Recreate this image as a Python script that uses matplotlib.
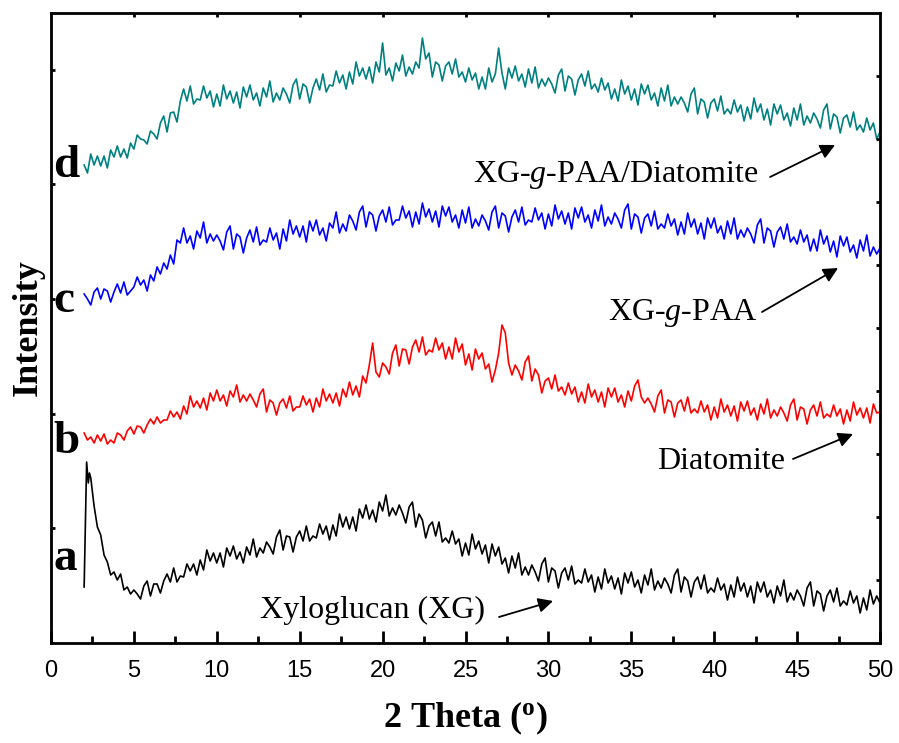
import numpy as np
import matplotlib
matplotlib.use('Agg')
import matplotlib.pyplot as plt

plt.rcParams['mathtext.fontset'] = 'custom'
plt.rcParams['mathtext.rm'] = 'Liberation Serif'
plt.rcParams['mathtext.it'] = 'Liberation Serif:italic'
plt.rcParams['mathtext.bf'] = 'Liberation Serif:bold'

# 2 theta grid (step 0.2) shared by curves b, c, d
two_theta = np.linspace(2, 50, 241)

# d: XG-g-PAA/Diatomite (offset intensity, arbitrary units)
d_int = [478, 470, 489, 478, 487, 477, 487, 475, 493, 486, 497, 486, 494, 485, 500,
         494, 508, 504, 503, 499, 512, 509, 504, 520, 527, 511, 530, 531, 521, 542,
         554, 542, 557, 539, 544, 543, 557, 545, 552, 536, 549, 537, 558, 544, 552,
         540, 551, 535, 556, 546, 558, 543, 550, 537, 555, 546, 562, 541, 550, 543,
         555, 549, 540, 558, 564, 544, 559, 556, 540, 555, 564, 553, 569, 551, 558,
         557, 572, 560, 568, 554, 571, 559, 581, 567, 575, 564, 576, 560, 581, 571,
         600, 568, 575, 562, 580, 572, 588, 567, 576, 569, 581, 575, 605, 584, 590,
         566, 581, 578, 562, 577, 581, 569, 584, 566, 571, 561, 575, 563, 570, 554,
         566, 554, 575, 561, 569, 595, 570, 554, 575, 565, 577, 562, 569, 556, 574,
         560, 576, 555, 564, 557, 565, 559, 550, 568, 574, 552, 567, 564, 548, 563,
         569, 557, 572, 554, 559, 551, 565, 553, 560, 544, 554, 542, 563, 549, 557,
         543, 554, 538, 559, 549, 558, 543, 550, 537, 555, 542, 558, 537, 546, 539,
         546, 540, 531, 549, 555, 529, 544, 541, 525, 540, 544, 532, 547, 529, 534,
         529, 543, 531, 538, 522, 536, 524, 545, 531, 539, 523, 534, 518, 539, 529,
         538, 523, 530, 517, 535, 523, 539, 518, 527, 520, 530, 524, 515, 533, 539,
         514, 529, 526, 510, 525, 528, 516, 531, 513, 518, 511, 525, 513, 520, 504,
         511]

# c: XG-g-PAA
c_int = [349, 344, 338, 351, 355, 344, 354, 352, 341, 351, 359, 350, 361, 348, 352,
         356, 366, 358, 363, 352, 368, 362, 376, 369, 380, 374, 388, 379, 403, 400,
         415, 400, 407, 394, 412, 405, 421, 400, 409, 402, 408, 402, 393, 411, 417,
         394, 409, 406, 390, 405, 413, 401, 416, 398, 403, 401, 415, 403, 410, 394,
         414, 402, 423, 409, 417, 406, 417, 401, 422, 412, 423, 408, 415, 402, 420,
         415, 431, 410, 419, 412, 428, 422, 413, 431, 437, 416, 431, 428, 412, 427,
         433, 421, 436, 418, 423, 423, 437, 425, 432, 416, 431, 419, 440, 426, 434,
         421, 432, 416, 437, 427, 436, 421, 428, 415, 433, 420, 436, 415, 424, 417,
         428, 422, 413, 431, 437, 415, 430, 427, 411, 426, 433, 421, 436, 418, 423,
         421, 435, 423, 430, 414, 429, 417, 438, 424, 432, 419, 430, 414, 435, 425,
         436, 421, 428, 415, 433, 422, 438, 417, 426, 419, 430, 424, 415, 433, 439,
         414, 429, 426, 410, 425, 429, 417, 432, 414, 419, 415, 429, 417, 424, 408,
         421, 409, 430, 416, 424, 409, 420, 404, 425, 415, 425, 410, 417, 404, 422,
         409, 425, 404, 413, 406, 415, 409, 400, 418, 424, 400, 415, 412, 396, 411,
         416, 404, 419, 401, 406, 399, 413, 401, 408, 392, 404, 392, 413, 399, 407,
         391, 402, 386, 407, 397, 406, 391, 398, 385, 403, 392, 408, 387, 396, 389,
         395]

# b: Diatomite
b_int = [210, 203, 206, 200, 208, 202, 209, 199, 203, 200, 210, 208, 203, 212, 216,
         209, 217, 216, 210, 218, 224, 219, 226, 220, 223, 223, 232, 226, 231, 224,
         237, 229, 247, 236, 242, 235, 245, 233, 250, 242, 253, 242, 248, 237, 252,
         246, 258, 241, 248, 242, 249, 243, 236, 249, 254, 231, 243, 240, 228, 240,
         244, 235, 247, 232, 236, 236, 247, 238, 244, 231, 245, 236, 254, 242, 249,
         240, 250, 237, 254, 246, 261, 248, 257, 246, 267, 260, 278, 300, 271, 266,
         280, 276, 269, 290, 298, 277, 294, 293, 279, 296, 303, 291, 306, 288, 293,
         291, 305, 293, 300, 284, 296, 284, 305, 291, 299, 278, 289, 273, 294, 284,
         290, 274, 279, 261, 273, 290, 318, 310, 280, 268, 278, 272, 263, 281, 287,
         262, 274, 268, 250, 262, 265, 254, 268, 252, 256, 248, 260, 249, 256, 241,
         251, 240, 259, 246, 253, 241, 251, 236, 255, 246, 255, 241, 248, 236, 252,
         242, 257, 263, 246, 240, 245, 239, 231, 247, 253, 230, 243, 241, 226, 240,
         243, 232, 246, 230, 234, 230, 242, 231, 238, 223, 236, 225, 244, 231, 238,
         227, 237, 222, 241, 232, 242, 228, 235, 223, 239, 229, 244, 225, 233, 227,
         236, 230, 222, 238, 244, 223, 236, 234, 219, 233, 238, 227, 241, 225, 229,
         226, 238, 227, 234, 219, 233, 222, 241, 228, 235, 225, 235, 220, 239, 230,
         231]

# a: Xyloglucan (XG) - sharp low-angle rise, then step 0.2 from 2.4
a_head_theta = [2.0, 2.08, 2.15, 2.25, 2.32]
a_head_int = [56, 120, 181, 160, 170]
a_tail_int = [165, 137, 116,
              108, 88, 81, 68, 71, 63, 69, 53, 56, 49, 53, 49, 44, 57, 62,
              47, 59, 59, 50, 62, 69, 61, 75, 61, 67, 66, 79, 72, 79, 68,
              83, 73, 93, 82, 90, 80, 90, 76, 95, 87, 97, 84, 91, 80, 96,
              88, 104, 86, 95, 90, 101, 96, 89, 106, 113, 93, 107, 106, 91, 106,
              112, 102, 117, 102, 107, 105, 119, 109, 117, 103, 118, 107, 129, 116, 126,
              114, 126, 112, 134, 125, 138, 124, 133, 121, 141, 132, 148, 127, 135, 128,
              138, 130, 120, 136, 141, 116, 129, 123, 105, 117, 121, 107, 121, 101, 105,
              100, 112, 99, 104, 87, 100, 88, 109, 94, 102, 89, 98, 80, 99, 87,
              96, 79, 85, 70, 87, 75, 90, 68, 76, 68, 78, 71, 62, 79, 85,
              61, 75, 72, 55, 70, 75, 63, 77, 59, 63, 60, 74, 61, 68, 51,
              66, 54, 74, 60, 67, 54, 65, 49, 70, 60, 71, 56, 63, 50, 68,
              58, 74, 53, 62, 55, 65, 59, 50, 68, 74, 51, 66, 62, 46, 61,
              66, 54, 68, 50, 55, 51, 65, 53, 59, 43, 58, 46, 66, 52, 60,
              46, 57, 40, 61, 51, 61, 46, 53, 40, 57, 47, 63, 41, 50, 43,
              53, 47, 37, 55, 61, 37, 52, 49, 32, 47, 53, 41, 55, 37, 42,
              38, 52, 40, 47, 30, 45, 33, 53, 39, 47,
              40]
a_theta = list(a_head_theta) + list(np.linspace(2.4, 50, 239))
a_int = a_head_int + a_tail_int

fig = plt.figure(figsize=(8.99, 7.43), dpi=100)
ax = fig.add_axes([0.0567, 0.1346, 0.9222, 0.8479])

ax.plot(two_theta, d_int, color='#008080', lw=1.2)
ax.plot(two_theta, c_int, color='#0000FF', lw=1.2)
ax.plot(two_theta, b_int, color='#FF0000', lw=1.2)
ax.plot(a_theta, a_int, color='black', lw=1.2)

ax.set_xlim(0, 50)
ax.set_ylim(0, 630)

for s in ax.spines.values():
    s.set_linewidth(2)

ax.set_xticks(np.arange(0, 51, 5))
ax.set_xticks(np.arange(2.5, 50, 5), minor=True)
ax.tick_params(axis='x', which='major', direction='in', length=9, width=2, labelsize=17, pad=12)
ax.tick_params(axis='x', which='minor', direction='in', length=5, width=2)
for lab in ax.get_xticklabels():
    lab.set_fontfamily('Liberation Sans')

ax.set_yticks([115, 229, 344, 459, 573])
ax.set_yticklabels([])
ax.tick_params(axis='y', which='major', direction='in', length=3, width=2, left=True)

# mirrored ticks on top and right
axt = ax.twiny()
axt.set_xlim(0, 50)
axt.set_xticks(np.arange(5, 50, 5))
axt.set_xticklabels([])
axt.tick_params(axis='x', direction='in', length=3, width=2)
axr = ax.twinx()
axr.set_ylim(0, 630)
axr.set_yticks(np.arange(63, 630, 63))
axr.set_yticklabels([])
axr.tick_params(axis='y', direction='in', length=3, width=2)

ax.set_xlabel('2 Theta ($^{\\mathbf{o}}$)', fontfamily='Liberation Serif',
              fontweight='bold', fontsize=26, labelpad=13)
ax.set_ylabel('Intensity', fontfamily='Liberation Serif', fontweight='bold',
              fontsize=26, labelpad=1)

# curve letters
letters = ['d', 'c', 'b', 'a']
letter_y = [466, 331, 190, 73]
for t, yy in zip(letters, letter_y):
    ax.text(0.15, yy, t, fontfamily='Liberation Serif', fontweight='bold',
            fontsize=34, ha='left', va='baseline')

# labels with arrows
names = ['XG-$g$-PAA/Diatomite', 'XG-$g$-PAA', 'Diatomite', 'Xyloglucan (XG)']
name_xy = [(25.45, 461), (33.6, 323), (36.55, 174), (12.6, 25)]
arrow_from = [(43.37, 466), (42.88, 331), (44.75, 184), (27.02, 26)]
arrow_to = [(47.29, 498), (47.47, 375), (48.37, 209), (30.28, 42)]
for n, (tx, ty), p0, p1 in zip(names, name_xy, arrow_from, arrow_to):
    ax.text(tx, ty, n, fontfamily='Liberation Serif', fontsize=23,
            ha='left', va='baseline')
    ax.annotate('', xy=p1, xytext=p0,
                arrowprops=dict(arrowstyle='-|>', color='black', lw=1.3,
                                mutation_scale=22, shrinkA=0, shrinkB=0))

fig.savefig('out.png', dpi=100)
